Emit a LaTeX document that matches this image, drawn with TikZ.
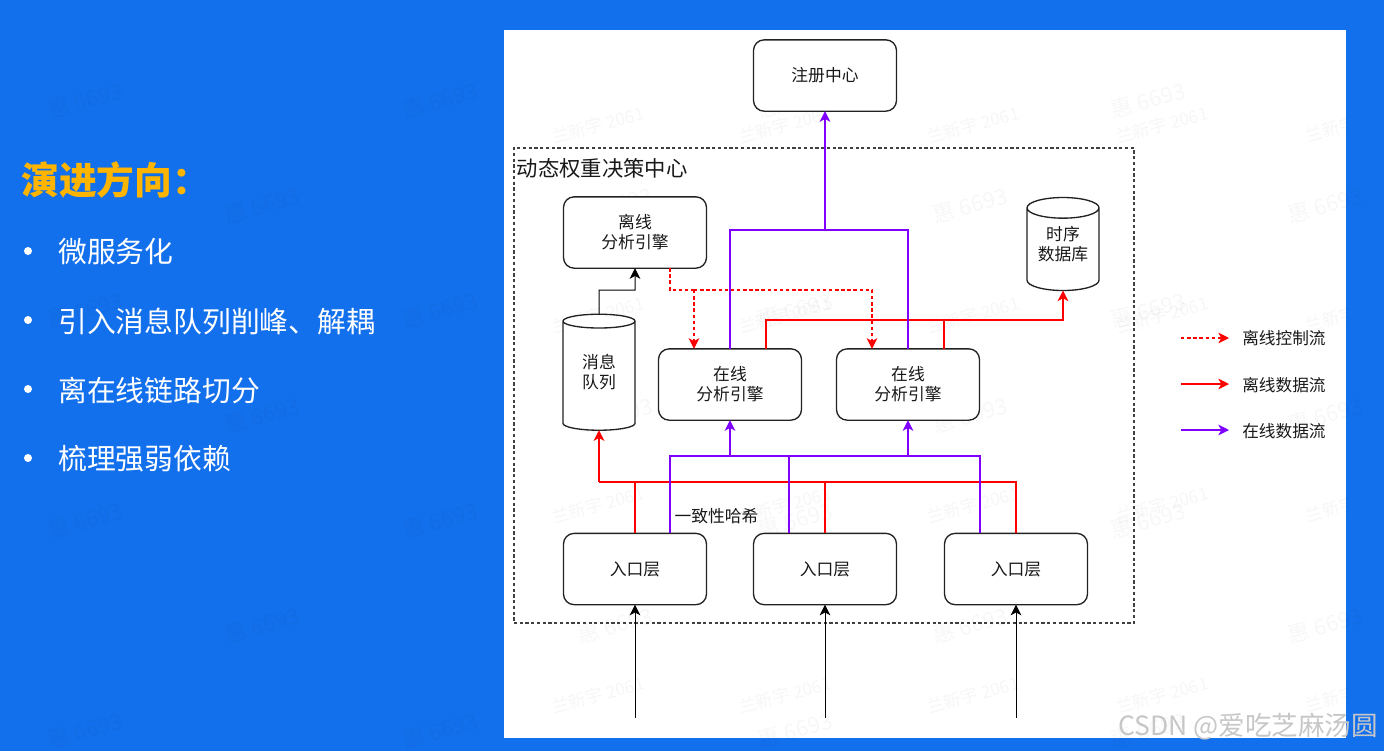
\documentclass[tikz,border=0pt]{standalone}
\usepackage{fontspec}
\setmainfont{Noto Sans CJK SC}
\usetikzlibrary{arrows.meta,shapes.geometric}
\definecolor{bgblue}{HTML}{1370EC}
\definecolor{titlegold}{HTML}{FFB400}
\definecolor{flowred}{HTML}{FF0000}
\definecolor{flowpurple}{HTML}{7F00FF}
\definecolor{boxline}{HTML}{222222}
\tikzset{
  boxnode/.style={draw=boxline,line width=1pt,rounded corners=8pt,fill=white,minimum width=107.25pt,minimum height=53.5pt,outer sep=0pt,align=center,font=\fontsize{12.6}{15}\selectfont,text=black!90},
  cyl/.style={shape=cylinder,shape border rotate=90,draw=boxline,line width=1pt,fill=white,minimum width=54pt,aspect=0.41,outer sep=0pt,inner sep=0pt,align=center,font=\fontsize{12.6}{15}\selectfont},
  cyltext/.style={inner sep=0pt,align=center,font=\fontsize{12.6}{15}\selectfont,text=black!90},
  tip/.style={-{Stealth[length=8pt,width=8pt,inset=2.2pt]}},
  flowblack/.style={tip,draw=black,line width=0.75pt},
  offdata/.style={tip,draw=flowred,line width=1.1pt},
  offdataplain/.style={draw=flowred,line width=1.1pt},
  offctrl/.style={tip,draw=flowred,line width=1.05pt,dash pattern=on 2.6pt off 2pt},
  offctrlplain/.style={draw=flowred,line width=1.05pt,dash pattern=on 2.6pt off 2pt},
  ondata/.style={tip,draw=flowpurple,line width=1.1pt},
  ondataplain/.style={draw=flowpurple,line width=1.1pt},
  legendtext/.style={anchor=west,font=\fontsize{12.5}{15}\selectfont,text=black!90,inner sep=0pt},
  leftitem/.style={anchor=west,font=\fontsize{21.6}{26}\selectfont,text=white,inner sep=0pt},
  bulletdot/.style={circle,fill=white,inner sep=0pt,minimum size=6pt},
  wmA/.style={rotate=15,font=\fontsize{16.5}{20}\selectfont,text=black,text opacity=0.03,inner sep=0pt},
  wmB/.style={rotate=15,font=\fontsize{13}{16}\selectfont,text=black,text opacity=0.035,inner sep=0pt},
  wmC/.style={anchor=east,inner sep=0pt,font=\fontsize{19.9}{24}\selectfont},
}
\begin{document}
\begin{tikzpicture}[x=0.75pt,y=-0.75pt]
\useasboundingbox (0,0) rectangle (1384,751);
\fill[bgblue] (0,0) rectangle (1384,751);
\fill[white] (504,30) rectangle (1346,738);
% watermarks
\foreach \px/\py [count=\i] in {85/100,440/100,795/100,1148/100,262/205,615/205,970/205,1325/205,85/310,440/310,795/310,1148/310,262/415,615/415,970/415,1325/415,85/520,440/520,795/520,1148/520,262/625,615/625,970/625,1325/625,85/730,440/730,795/730,1148/730}
  \node[wmA,name=wma\i] at (\px,\py) {惠 6693};
\foreach \px/\py [count=\i] in {598/125,785/125,973/125,1162/125,598/315,785/315,973/315,1162/315,598/505,785/505,973/505,1162/505,598/695,785/695,973/695,1162/695}
  \node[wmB,name=wmb\i] at (\px,\py) {兰新宇 2061};
\begin{scope}
\clip (504,30) rectangle (1346,738);
\foreach \py [count=\i] in {129,319,509,699}
  \node[wmB,name=wmc\i] at (1331,\py) {兰新宇};
\end{scope}
% left column
\node[anchor=west,inner sep=0pt,font=\fontsize{28.3}{34}\selectfont\bfseries,text=titlegold] (lefttitle) at (21,180) {演进方向：};
\node[bulletdot] (b1) at (28,251) {}; \node[leftitem] (l1) at (58,252) {微服务化};
\node[bulletdot] (b2) at (28,320) {}; \node[leftitem] (l2) at (58,321) {引入消息队列削峰、解耦};
\node[bulletdot] (b3) at (28,389) {}; \node[leftitem] (l3) at (58,390) {离在线链路切分};
\node[bulletdot] (b4) at (28,458) {}; \node[leftitem] (l4) at (58,459) {梳理强弱依赖};
% dashed frame
\node[draw=black!75,line width=0.85pt,dash pattern=on 2.4pt off 1.9pt,minimum width=465pt,minimum height=356.25pt,outer sep=0pt,inner sep=0pt] (center) at (824,385.5) {};
\node[anchor=west,inner sep=0pt,font=\fontsize{16}{20}\selectfont,text=black!90] (centertitle) at (516.5,168) {动态权重决策中心};
% nodes
\node[boxnode] (reg) at (825,75.5) {注册中心};
\node[boxnode] (off) at (635,232.5) {离线\\分析引擎};
\node[boxnode] (on1) at (730,384.5) {在线\\分析引擎};
\node[boxnode] (on2) at (908,384.5) {在线\\分析引擎};
\node[boxnode] (e1) at (635,569) {入口层};
\node[boxnode] (e2) at (825,569) {入口层};
\node[boxnode] (e3) at (1016,569) {入口层};
\node[cyl,minimum height=87pt] (mq) at (599,376) {\phantom{消息}\\\phantom{队列}};
\node[cyltext] (mqt) at (599,372.5) {消息\\队列};
\node[cyl,minimum height=69.75pt] (tsdb) at (1063,249.5) {\phantom{时序}\\\phantom{数据库}};
\node[cyltext] (tsdbt) at (1063,244.5) {时序\\数据库};
\node[inner sep=0pt,font=\fontsize{12.6}{15}\selectfont,text=black!90] (hash) at (716.5,516) {一致性哈希};
% junctions
\coordinate (rbus) at (599,482);
\coordinate (pbus) at (670,456);
\coordinate (p2) at (789,456);
\coordinate (p3) at (980,456);
\coordinate (ptop) at (825,230);
\coordinate (r1) at (766,320);
\coordinate (r2) at (944,320);
\coordinate (c0) at (670,290);
\coordinate (c1) at (694,290);
\coordinate (c2) at (872,290);
\coordinate (k) at (599,290);
% entry arrows
\coordinate (s1) at (635,718);
\coordinate (s2) at (825,718);
\coordinate (s3) at (1016,718);
\draw[flowblack] (s1) -- (e1.south);
\draw[flowblack] (s2) -- (e2.south);
\draw[flowblack] (s3) -- (e3.south);
% red data
\draw[offdataplain] (e3.north) |- (rbus);
\draw[offdataplain] (e2.north) -- (e2.north |- rbus);
\draw[offdataplain] (e1.north) -- (e1.north |- rbus);
\draw[offdata] (rbus) -- (mq.south);
\draw[offdataplain] (on1.north -| r1) -- (r1) -- (r2);
\draw[offdataplain] (on2.north -| r2) -- (r2);
\draw[offdata] (r2) -| (tsdb.south);
% purple data
\draw[ondataplain] (e1.north -| pbus) -- (pbus) -- (p3) -- (e3.north -| p3);
\draw[ondataplain] (e2.north -| p2) -- (p2);
\draw[ondata] (pbus -| on1.south) -- (on1.south);
\draw[ondata] (pbus -| on2.south) -- (on2.south);
\draw[ondataplain] (on1.north) |- (ptop) -| (on2.north);
\draw[ondata] (ptop) -- (reg.south);
% black queue
\draw[flowblack] (mq.north) -- (k) -| (off.south);
% dashed control
\draw[offctrlplain] (off.south -| c0) -- (c0) -- (c1);
\draw[offctrl] (c1) -- (on1.north -| c1);
\draw[offctrl] (c1) -- (c2) -- (on2.north -| c2);
% legend
\coordinate (la1) at (1181,338); \coordinate (la2) at (1229,338);
\coordinate (lb1) at (1181,384); \coordinate (lb2) at (1229,384);
\coordinate (lc1) at (1181,430); \coordinate (lc2) at (1229,430);
\draw[offctrl,line width=0.85pt] (la1) -- (la2);
\draw[offdata] (lb1) -- (lb2);
\draw[ondata] (lc1) -- (lc2);
\node[legendtext] (lt1) at (1242,338) {离线控制流};
\node[legendtext] (lt2) at (1242,385) {离线数据流};
\node[legendtext] (lt3) at (1242,431) {在线数据流};
% CSDN mark
\node[wmC,text=black!22] (csdn) at (1378,727) {CSDN @爱吃芝麻汤圆};
\end{tikzpicture}
\end{document}
